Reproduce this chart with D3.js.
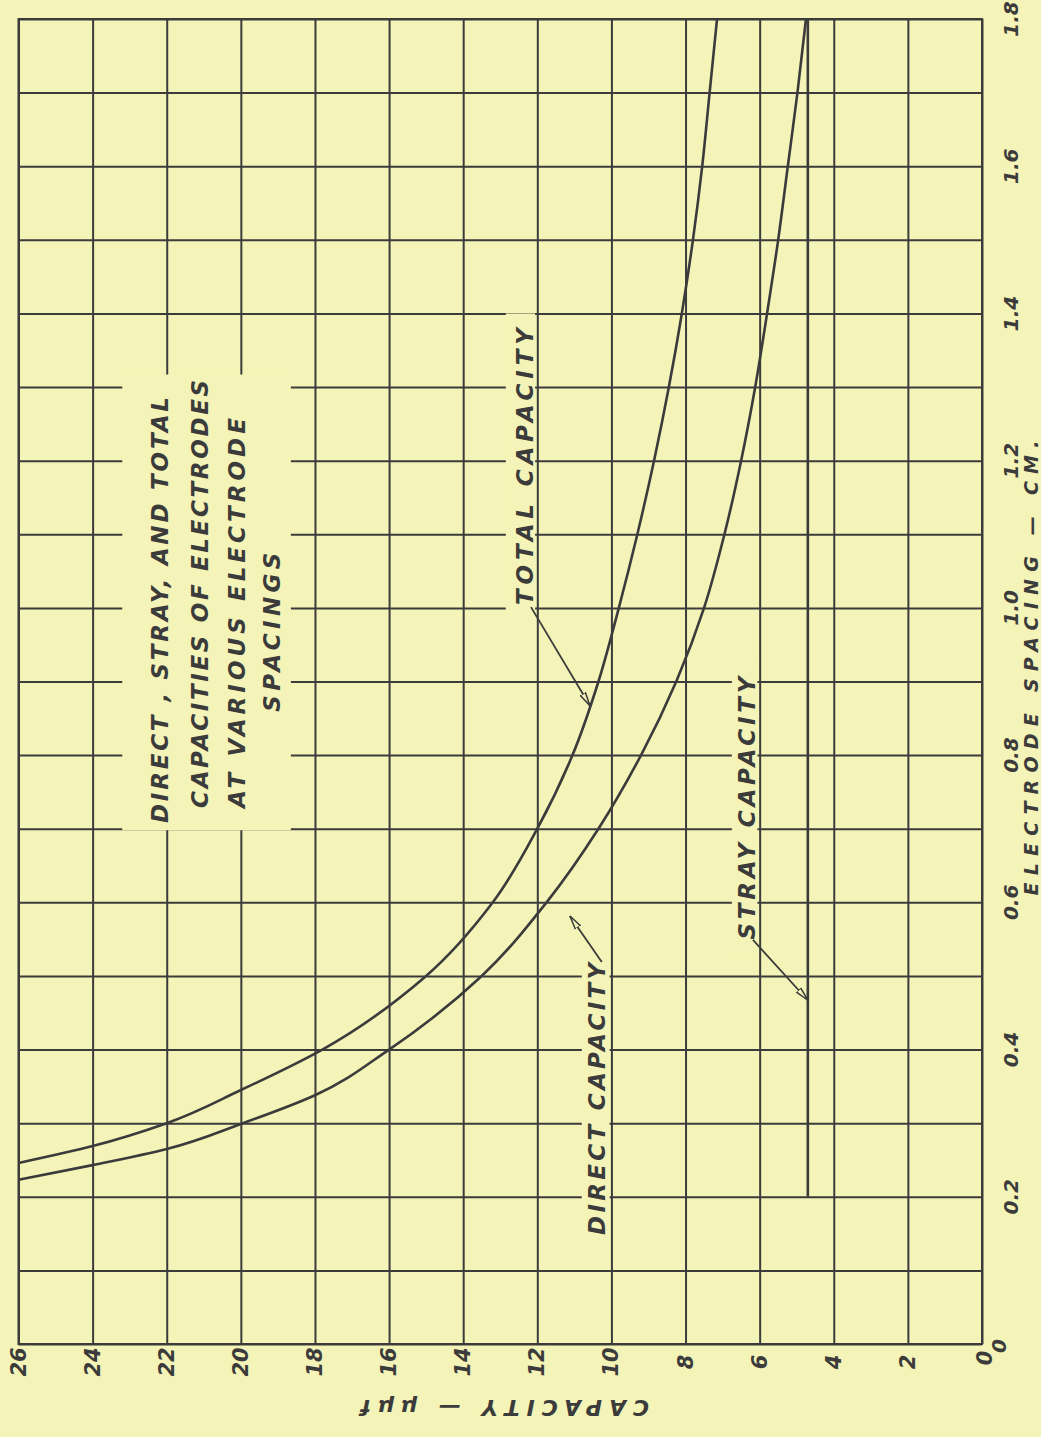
<!DOCTYPE html>
<html lang="en">
<head>
    <meta charset="UTF-8">
    <title>Capacities of electrodes</title>
    <style>
        body { margin: 0; background: #f4f4b8; }
        svg { display: block; }
        text { font-family: "DejaVu Sans", "Liberation Sans", sans-serif; font-style: oblique; fill: #3b3b3b; }
    </style>
    <script src="https://d3js.org/d3.v7.min.js"></script>
</head>
<body>
    <div id="svg"></div>
    <script>
        // spacing in cm, capacity in micro-micro-farads
        const totalSpacing = [0.246, 0.269, 0.30, 0.345, 0.40, 0.50, 0.60, 0.70, 0.80,  0.90,  1.00, 1.10, 1.20, 1.30, 1.40, 1.50, 1.60, 1.70, 1.80]
        const totalCap     = [26,    24,    22,   20,    17.8, 15.0, 13.2, 12.0, 11.05, 10.35, 9.8,  9.3,  8.85, 8.45, 8.1,  7.8,  7.55, 7.35, 7.15]

        const directSpacing = [0.223, 0.243, 0.265, 0.299, 0.338, 0.40, 0.50, 0.60,  0.70,  0.80, 0.90, 1.00, 1.10, 1.20, 1.30, 1.40, 1.50, 1.60, 1.70, 1.80]
        const directCap     = [26,    24,    22,    20,    18,    16,   13.5, 11.75, 10.35, 9.2,  8.25, 7.5,  6.95, 6.5,  6.12, 5.8,  5.5,  5.24, 4.98, 4.75]

        const straySpacing = [0.2, 1.8]
        const strayCap = [4.7, 4.7]

        const capTicks = [0, 2, 4, 6, 8, 10, 12, 14, 16, 18, 20, 22, 24, 26]
        const spacingTicks = [0, 0.1, 0.2, 0.3, 0.4, 0.5, 0.6, 0.7, 0.8, 0.9, 1.0, 1.1, 1.2, 1.3, 1.4, 1.5, 1.6, 1.7, 1.8]
        const spacingLabels = ["0", "", "0.2", "", "0.4", "", "0.6", "", "0.8", "", "1.0", "", "1.2", "", "1.4", "", "1.6", "", "1.8"]

        const titleLines = ["DIRECT , STRAY, AND TOTAL", "CAPACITIES OF ELECTRODES", "AT VARIOUS ELECTRODE", "SPACINGS"]

        const xAsixLabel = "CAPACITY — μμf"
        const yAsixLabel = "ELECTRODE SPACING — CM."

        const { boxWidth, boxHeight } = { boxWidth: 1041, boxHeight: 1437 }
        const { plotLeft, plotRight, plotTop, plotBottom } = { plotLeft: 18.5, plotRight: 982, plotTop: 19, plotBottom: 1344 }
        const bg = "#f4f4b8"
        const ink = "#3b3b3b"

        // capacity runs right to left, spacing runs bottom to top
        const xScale = d3.scaleLinear().domain([26, 0]).range([plotLeft, plotRight])
        const yScale = d3.scaleLinear().domain([0, 1.8]).range([plotBottom, plotTop])

        const svg = d3.select("#svg").append("svg")
            .attr("width", boxWidth).attr("height", boxHeight)

        svg.append("rect").attr("width", boxWidth).attr("height", boxHeight).attr("fill", bg)

        const defs = svg.append("defs")
        defs.append("marker")
            .attr("id", "arrow")
            .attr("viewBox", "0 0 14 8")
            .attr("refX", 14).attr("refY", 4)
            .attr("markerWidth", 14).attr("markerHeight", 8)
            .attr("markerUnits", "userSpaceOnUse")
            .attr("orient", "auto")
            .append("path")
            .attr("d", "M0,1 L14,4 L0,7 Z")
            .attr("fill", bg).attr("stroke", ink).attr("stroke-width", 1.5)

        const g = svg.append("g").attr("id", "mainGroup")

        // grid
        const xAsix = d3.axisBottom(xScale).tickValues(capTicks).tickSize(-(plotBottom - plotTop)).tickFormat("")
        const yAsix = d3.axisRight(yScale).tickValues(spacingTicks).tickSize(-(plotRight - plotLeft)).tickFormat("")
        g.append("g").attr("transform", `translate(0, ${plotBottom})`).call(xAsix)
        g.append("g").attr("transform", `translate(${plotRight}, 0)`).call(yAsix)
        g.selectAll(".domain").remove()
        g.selectAll(".tick line").attr("stroke", ink).attr("stroke-width", 2)
        g.append("rect")
            .attr("x", plotLeft).attr("y", plotTop)
            .attr("width", plotRight - plotLeft).attr("height", plotBottom - plotTop)
            .attr("fill", "none").attr("stroke", ink).attr("stroke-width", 2)

        // blank-outs where the lettering sits over the grid
        const gaps = [
            { c0: 23.2, c1: 18.65, s0: 0.698, s1: 1.317 },
            { c0: 12.85, c1: 12.06, s0: 0.99, s1: 1.40 },
            { c0: 10.80, c1: 10.05, s0: 0.14, s1: 0.52 },
            { c0: 6.75, c1: 6.06, s0: 0.53, s1: 0.93 }
        ]
        g.selectAll(".gap").data(gaps).join("rect")
            .attr("class", "gap")
            .attr("x", d => xScale(d.c0)).attr("width", d => xScale(d.c1) - xScale(d.c0))
            .attr("y", d => yScale(d.s1)).attr("height", d => yScale(d.s0) - yScale(d.s1))
            .attr("fill", bg)

        // curves, ordered top to bottom on the page so the monotone fit works along y
        const line = d3.line()
            .x(d => xScale(d[1]))
            .y(d => yScale(d[0]))
            .curve(d3.curveMonotoneY)

        const series = [
            d3.zip(totalSpacing, totalCap).reverse(),
            d3.zip(directSpacing, directCap).reverse(),
            d3.zip(straySpacing, strayCap).reverse()
        ]
        g.selectAll(".curve").data(series).join("path")
            .attr("class", "curve")
            .attr("d", line)
            .attr("fill", "none").attr("stroke", ink).attr("stroke-width", 2.6)

        // tick labels
        g.selectAll(".capLabel").data(capTicks).join("text")
            .attr("class", "capLabel")
            .attr("transform", d => `translate(${xScale(d) + (d === 0 ? 3 : 0)}, ${d === 0 ? 1358 : 1362}) rotate(-90)`)
            .attr("text-anchor", "middle").attr("dominant-baseline", "central")
            .attr("font-size", 21).attr("font-weight", "bold")
            .text(d => d)

        g.selectAll(".spLabel").data(spacingTicks).join("text")
            .attr("class", "spLabel")
            .attr("transform", (d, i) => `translate(${i === 0 ? 999 : 1011}, ${yScale(d) + (i === 0 ? 2 : 0)}) rotate(-90)`)
            .attr("text-anchor", "middle").attr("dominant-baseline", "central")
            .attr("font-size", 20).attr("font-weight", "bold")
            .text((d, i) => spacingLabels[i])

        // axis titles
        g.append("text")
            .attr("transform", `translate(505, 1407) rotate(180)`)
            .attr("text-anchor", "middle").attr("dominant-baseline", "central")
            .attr("font-size", 22).attr("font-weight", "bold")
            .attr("textLength", 288).attr("lengthAdjust", "spacing")
            .text(xAsixLabel)

        g.append("text")
            .attr("transform", `translate(1031, 668) rotate(-90)`)
            .attr("text-anchor", "middle").attr("dominant-baseline", "central")
            .attr("font-size", 19).attr("font-weight", "bold")
            .attr("textLength", 455).attr("lengthAdjust", "spacing")
            .text(yAsixLabel)

        // title block
        const titlePos = [
            { c: 22.19, s: 0.997, len: 426 },
            { c: 21.10, s: 1.019, len: 428 },
            { c: 20.10, s: 0.993, len: 390 },
            { c: 19.16, s: 0.967, len: 159 }
        ]
        g.selectAll(".title").data(titleLines).join("text")
            .attr("class", "title")
            .attr("transform", (d, i) => `translate(${xScale(titlePos[i].c)}, ${yScale(titlePos[i].s)}) rotate(-90)`)
            .attr("text-anchor", "middle").attr("dominant-baseline", "central")
            .attr("font-size", 23).attr("font-weight", "bold")
            .attr("textLength", (d, i) => titlePos[i].len).attr("lengthAdjust", "spacing")
            .text(d => d)

        // curve labels with leaders
        const notes = [
            { text: "TOTAL CAPACITY", c: 12.33, s: 1.192, len: 277, from: [12.17, 1.001], to: [10.58, 0.867] },
            { text: "DIRECT CAPACITY", c: 10.39, s: 0.333, len: 272, from: [10.26, 0.519], to: [11.12, 0.5815] },
            { text: "STRAY CAPACITY", c: 6.34, s: 0.728, len: 263, from: [6.18, 0.549], to: [4.70, 0.467] }
        ]
        g.selectAll(".note").data(notes).join("text")
            .attr("class", "note")
            .attr("transform", d => `translate(${xScale(d.c)}, ${yScale(d.s)}) rotate(-90)`)
            .attr("text-anchor", "middle").attr("dominant-baseline", "central")
            .attr("font-size", 23).attr("font-weight", "bold")
            .attr("textLength", d => d.len).attr("lengthAdjust", "spacing")
            .text(d => d.text)

        g.selectAll(".leader").data(notes).join("line")
            .attr("class", "leader")
            .attr("x1", d => xScale(d.from[0])).attr("y1", d => yScale(d.from[1]))
            .attr("x2", d => xScale(d.to[0])).attr("y2", d => yScale(d.to[1]))
            .attr("stroke", ink).attr("stroke-width", 1.8)
            .attr("marker-end", "url(#arrow)")
    </script>
</body>
</html>
